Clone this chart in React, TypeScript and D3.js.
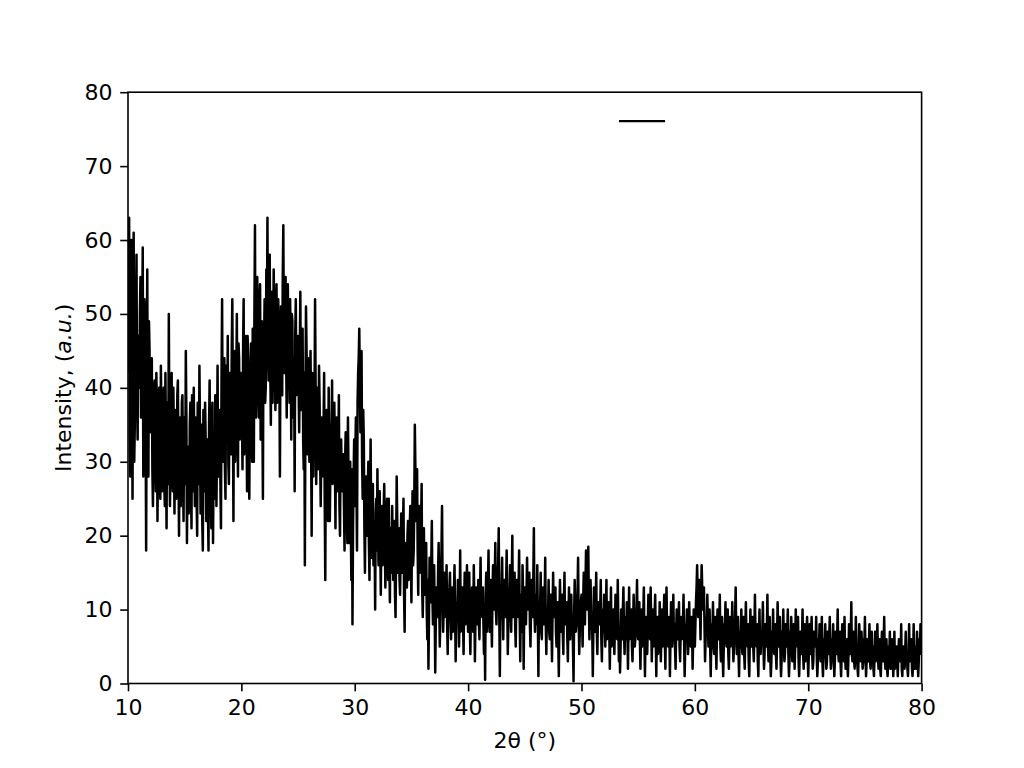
import React, { useEffect, useRef } from 'react';
import * as d3 from 'd3';

// 2-theta sampling: first angle and step (degrees); the "half" arrays sit between
const X_START = 10;
const X_STEP = 0.1;

// intensities at 10.0, 10.1, ... one row per degree
const counts10to20 = [
  42, 63, 28, 60, 25, 61, 35, 50, 38, 47,
  40, 55, 42, 59, 30, 48, 18, 56, 28, 45,
  34, 44, 24, 40, 30, 42, 22, 38, 28, 43,
  26, 36, 27, 42, 21, 35, 50, 24, 38, 29,
  40, 23, 35, 28, 41, 20, 36, 27, 39, 22,
  34, 45, 19, 32, 25, 38, 21, 33, 40, 24,
  36, 20, 31, 43, 23, 35, 18, 30, 38, 22,
  33, 18, 41, 26, 36, 19, 32, 39, 24, 43,
  28, 37, 21, 52, 30, 44, 25, 38, 47, 27,
  42, 31, 52, 22, 45, 35, 50, 28, 44, 36,
];
const counts20to30 = [
  40, 29, 52, 33, 47, 26, 44, 25, 41, 35,
  48, 30, 62, 36, 55, 40, 52, 33, 49, 25,
  46, 38, 56, 63, 41, 58, 35, 53, 44, 50,
  37, 54, 40, 48, 28, 51, 39, 62, 42, 55,
  36, 54, 46, 52, 33, 49, 38, 26, 52, 40,
  47, 34, 53, 42, 48, 29, 16, 51, 37, 44,
  30, 45, 20, 41, 35, 52, 27, 40, 32, 38,
  24, 36, 30, 42, 14, 37, 26, 40, 22, 35,
  41, 28, 38, 21, 36, 30, 39, 20, 33, 26,
  31, 18, 34, 23, 36, 19, 30, 14, 8, 28,
];
const counts30to40 = [
  24, 36, 18, 42, 48, 34, 45, 25, 33, 15,
  28, 20, 30, 14, 33, 17, 27, 22, 10, 25,
  29, 16, 26, 12, 24, 19, 27, 13, 22, 17,
  25, 11, 20, 24, 14, 22, 9, 28, 15, 21,
  12, 23, 17, 25, 7, 19, 13, 22, 16, 24,
  11, 26, 18, 35, 22, 29, 12, 24, 17, 27,
  9, 21, 14, 19, 6, 2, 17, 11, 22, 8,
  16, 1.5, 13, 9, 19, 5, 14, 24, 7, 15,
  10, 16, 4, 12, 15, 6, 13, 9, 16, 3,
  11, 14, 5, 18, 8, 13, 4, 15, 10, 16,
];
const counts40to50 = [
  7, 15, 4, 12, 9, 16, 3, 13, 8, 14,
  6, 17, 10, 13, 4, 0.5, 15, 9, 18, 7,
  14, 5, 16, 10, 19, 8, 15, 21, 1, 12,
  17, 6, 14, 9, 18, 4, 13, 16, 7, 20,
  11, 15, 5, 14, 9, 18, 3, 12, 16, 2,
  13, 8, 17, 10, 15, 5, 14, 9, 21, 7,
  12, 16, 1, 11, 15, 6, 13, 8, 17, 4,
  10, 14, 6, 12, 3, 15, 9, 13, 5, 11,
  1, 14, 7, 12, 4, 15, 8, 11, 3, 13,
  6, 12, 9, 0.3, 14, 7, 11, 17, 4, 10,
];
const counts50to60 = [
  12, 5, 15, 8, 18, 10, 18.5, 6, 14, 9,
  1, 13, 7, 15, 4, 11, 8, 14, 3, 10,
  12, 5, 14, 7, 11, 2, 13, 6, 10, 4,
  12, 7, 14, 3, 1.5, 10, 6, 13, 4, 9,
  11, 2, 13, 7, 10, 3, 12, 5, 9, 14,
  6, 11, 2, 10, 7, 13, 1, 9, 4, 12,
  8, 13, 3, 10, 6, 12, 1, 9, 5, 11,
  3, 10, 7, 12, 2, 13, 6, 9, 1, 11,
  5, 12, 8, 2, 10, 6, 11, 3, 9, 7,
  12, 1, 8, 10, 4, 11, 6, 9, 2, 10,
];
const counts60to70 = [
  5, 11, 16, 9, 14, 6, 16, 10, 13, 3,
  9, 12, 5, 10, 1, 8, 11, 4, 9, 2,
  10, 6, 12, 3, 9, 1, 8, 11, 5, 10,
  2, 9, 6, 11, 3, 8, 13, 4, 9, 1,
  7, 10, 4, 9, 2, 11, 6, 8, 1, 10,
  5, 9, 3, 12, 6, 8, 1, 10, 4, 7,
  11, 2, 8, 5, 12, 3, 9, 1, 7, 10,
  4, 8, 2, 11, 5, 9, 1, 7, 10, 3,
  8, 5, 10, 1, 7, 9, 3, 8, 2, 10,
  6, 9, 1, 7, 4, 10, 2, 8, 5, 9,
];
const counts70to80 = [
  1, 8, 4, 9, 2, 7, 5, 9, 1, 6,
  8, 3, 9, 1, 6, 8, 2, 7, 4, 9,
  2, 6, 8, 1, 7, 4, 10, 3, 7, 1,
  8, 5, 9, 2, 6, 1, 8, 4, 11, 3,
  7, 2, 9, 5, 1, 8, 4, 7, 2, 6,
  9, 1, 6, 3, 8, 2, 7, 5, 1, 7,
  4, 8, 2, 6, 1, 7, 3, 9, 2, 6,
  1, 5, 7, 2, 6, 1, 7, 3, 5, 1,
  6, 3, 8, 1, 5, 2, 7, 4, 1, 8,
  3, 6, 1, 8, 2, 5, 7, 1, 6, 8,
  4,
];

// intensities at the half steps 10.05, 10.15, ...
const half10to20 = [
  52, 34, 48, 40, 55, 30, 45, 58, 33, 41,
  50, 36, 47, 28, 52, 38, 44, 30, 49, 35,
  38, 29, 35, 41, 26, 37, 32, 40, 25, 36,
  31, 40, 24, 33, 38, 27, 34, 30, 42, 26,
  33, 37, 25, 39, 30, 35, 24, 38, 29, 36,
  27, 36, 30, 23, 35, 28, 39, 26, 31, 34,
  25, 38, 27, 34, 29, 22, 37, 26, 33, 30,
  24, 35, 29, 21, 38, 30, 25, 36, 32, 28,
  36, 27, 41, 33, 38, 29, 43, 34, 30, 40,
  35, 45, 38, 43, 30, 40, 37, 46, 33, 42,
];
const half20to30 = [
  36, 45, 31, 40, 38, 47, 33, 39, 46, 30,
  42, 50, 38, 47, 44, 36, 54, 42, 37, 48,
  52, 40, 48, 45, 55, 43, 50, 38, 56, 46,
  45, 38, 52, 43, 47, 40, 55, 46, 51, 44,
  48, 41, 38, 45, 50, 36, 44, 47, 39, 46,
  40, 44, 37, 46, 33, 42, 38, 45, 31, 40,
  38, 33, 42, 28, 37, 40, 34, 29, 43, 30,
  32, 28, 35, 25, 31, 33, 22, 34, 29, 31,
  27, 33, 30, 35, 26, 31, 24, 32, 28, 30,
  24, 30, 27, 19, 28, 25, 22, 29, 21, 33,
];
const half30to40 = [
  30, 27, 38, 44, 40, 41, 30, 37, 21, 26,
  22, 26, 19, 25, 21, 24, 16, 20, 23, 18,
  21, 24, 18, 22, 16, 23, 20, 17, 25, 14,
  17, 21, 15, 19, 20, 12, 18, 22, 19, 14,
  18, 15, 21, 12, 18, 16, 20, 14, 21, 17,
  20, 16, 24, 29, 26, 18, 22, 15, 21, 13,
  15, 12, 18, 10, 14, 9, 13, 16, 12, 14,
  10, 8, 12, 15, 11, 9, 18, 13, 11, 9,
  12, 8, 10, 13, 9, 11, 7, 12, 10, 8,
  9, 12, 10, 7, 13, 9, 11, 8, 12, 9,
];
const half40to50 = [
  11, 8, 10, 13, 7, 11, 9, 12, 10, 8,
  12, 9, 11, 8, 10, 12, 7, 13, 10, 11,
  9, 12, 11, 14, 10, 12, 16, 9, 11, 13,
  10, 12, 9, 13, 11, 8, 12, 10, 14, 9,
  12, 8, 11, 10, 13, 9, 11, 7, 12, 10,
  9, 12, 11, 13, 8, 10, 12, 14, 10, 11,
  8, 9, 11, 10, 7, 12, 9, 11, 8, 10,
  9, 7, 11, 8, 10, 9, 12, 7, 9, 6,
  8, 10, 9, 7, 11, 8, 10, 6, 9, 8,
  10, 7, 5, 9, 10, 8, 12, 9, 7, 11,
];
const half50to60 = [
  9, 11, 12, 13, 14, 12, 11, 10, 9, 7,
  8, 9, 11, 7, 9, 8, 10, 6, 8, 7,
  8, 9, 6, 10, 7, 8, 5, 9, 7, 8,
  9, 6, 8, 7, 5, 8, 10, 7, 8, 6,
  7, 8, 6, 9, 5, 7, 8, 6, 10, 7,
  8, 6, 7, 5, 9, 6, 7, 5, 8, 7,
  6, 8, 7, 5, 9, 6, 8, 4, 7, 6,
  7, 5, 9, 6, 8, 7, 5, 8, 6, 7,
  8, 6, 5, 7, 6, 8, 5, 7, 6, 8,
  6, 5, 7, 8, 6, 7, 5, 8, 6, 7,
];
const half60to70 = [
  8, 13, 12, 11, 10, 12, 13, 11, 8, 6,
  7, 8, 6, 5, 6, 7, 5, 6, 5, 7,
  6, 8, 5, 6, 4, 5, 7, 6, 7, 4,
  6, 5, 7, 6, 5, 9, 7, 5, 4, 6,
  7, 5, 6, 4, 7, 6, 5, 3, 6, 5,
  6, 5, 7, 6, 5, 3, 6, 5, 6, 7,
  5, 4, 6, 7, 5, 6, 4, 3, 6, 5,
  5, 4, 6, 7, 6, 4, 3, 6, 5, 4,
  6, 7, 4, 3, 6, 5, 4, 6, 5, 6,
  5, 3, 4, 5, 6, 4, 5, 3, 6, 4,
];
const half70to80 = [
  4, 5, 6, 4, 3, 6, 5, 4, 3, 5,
  4, 5, 3, 4, 5, 4, 3, 5, 6, 4,
  3, 5, 4, 3, 5, 6, 4, 5, 3, 4,
  5, 3, 4, 5, 3, 4, 5, 6, 4, 5,
  3, 4, 5, 2, 4, 5, 3, 4, 3, 5,
  4, 3, 4, 5, 3, 4, 3, 2, 4, 3,
  5, 4, 3, 2, 4, 3, 5, 4, 3, 2,
  3, 4, 2, 3, 4, 3, 2, 4, 3, 4,
  4, 3, 2, 4, 3, 4, 3, 2, 4, 3,
  4, 2, 3, 4, 3, 2, 4, 3, 4, 5,
];

const xTicks = [10, 20, 30, 40, 50, 60, 70, 80];
const yTicks = [0, 10, 20, 30, 40, 50, 60, 70, 80];

const FONT = '"DejaVu Sans", sans-serif';
const FONT_SIZE = '22px';

export default function App() {
  const ref = useRef<SVGSVGElement>(null);

  useEffect(() => {
    const width = 1024;
    const height = 768;
    const margin = { left: 128, right: 102.4, top: 92.2, bottom: 84.5 };
    const innerW = width - margin.left - margin.right;
    const innerH = height - margin.top - margin.bottom;

    const counts = [
      ...counts10to20, ...counts20to30, ...counts30to40, ...counts40to50,
      ...counts50to60, ...counts60to70, ...counts70to80,
    ];
    const halves = [
      ...half10to20, ...half20to30, ...half30to40, ...half40to50,
      ...half50to60, ...half60to70, ...half70to80,
    ];

    const data: { angle: number; count: number }[] = [];
    counts.forEach((c, i) => {
      data.push({ angle: X_START + i * X_STEP, count: c });
      if (i < halves.length) {
        data.push({ angle: X_START + (i + 0.5) * X_STEP, count: halves[i] });
      }
    });

    const x = d3.scaleLinear().domain([10, 80]).range([0, innerW]);
    const y = d3.scaleLinear().domain([0, 80]).range([innerH, 0]);

    const svg = d3.select(ref.current);
    svg.selectAll('*').remove();

    svg.append('defs').append('clipPath').attr('id', 'plot-clip')
      .append('rect').attr('width', innerW).attr('height', innerH);

    const g = svg.append('g').attr('transform', `translate(${margin.left},${margin.top})`);

    const line = d3.line<{ angle: number; count: number }>()
      .x(d => x(d.angle))
      .y(d => y(d.count));

    g.append('path')
      .datum(data)
      .attr('clip-path', 'url(#plot-clip)')
      .attr('fill', 'none')
      .attr('stroke', '#000')
      .attr('stroke-width', 2.5)
      .attr('stroke-linejoin', 'round')
      .attr('d', line);

    // legend handle with no label
    g.append('line')
      .attr('x1', 491).attr('x2', 537)
      .attr('y1', 29).attr('y2', 29)
      .attr('stroke', '#000')
      .attr('stroke-width', 2.2);

    const xAxis = g.append('g')
      .attr('transform', `translate(0,${innerH})`)
      .call(d3.axisBottom(x).tickValues(xTicks).tickSize(7.8).tickPadding(7.8).tickSizeOuter(0));
    const yAxis = g.append('g')
      .call(d3.axisLeft(y).tickValues(yTicks).tickSize(7.8).tickPadding(7.8).tickSizeOuter(0));

    [xAxis, yAxis].forEach(ax => {
      ax.select('.domain').remove();
      ax.selectAll('line').attr('stroke', '#000').attr('stroke-width', 1.6);
      ax.selectAll('text')
        .attr('fill', '#000')
        .style('font-family', FONT)
        .style('font-size', FONT_SIZE);
    });

    g.append('rect')
      .attr('width', innerW)
      .attr('height', innerH)
      .attr('fill', 'none')
      .attr('stroke', '#000')
      .attr('stroke-width', 1.6);

    svg.append('text')
      .attr('x', margin.left + innerW / 2)
      .attr('y', 748)
      .attr('text-anchor', 'middle')
      .style('font-family', FONT)
      .style('font-size', FONT_SIZE)
      .text('2θ (°)');

    const yLabel = svg.append('text')
      .attr('transform', `translate(71,${margin.top + innerH / 2}) rotate(-90)`)
      .attr('text-anchor', 'middle')
      .style('font-family', FONT)
      .style('font-size', FONT_SIZE);
    yLabel.append('tspan').text('Intensity, (');
    yLabel.append('tspan').style('font-style', 'italic').text('a.u.');
    yLabel.append('tspan').text(')');
  }, []);

  return (
    <svg
      ref={ref}
      width={1024}
      height={768}
      style={{ position: 'absolute', left: 0, top: 0, background: '#fff' }}
    />
  );
}
